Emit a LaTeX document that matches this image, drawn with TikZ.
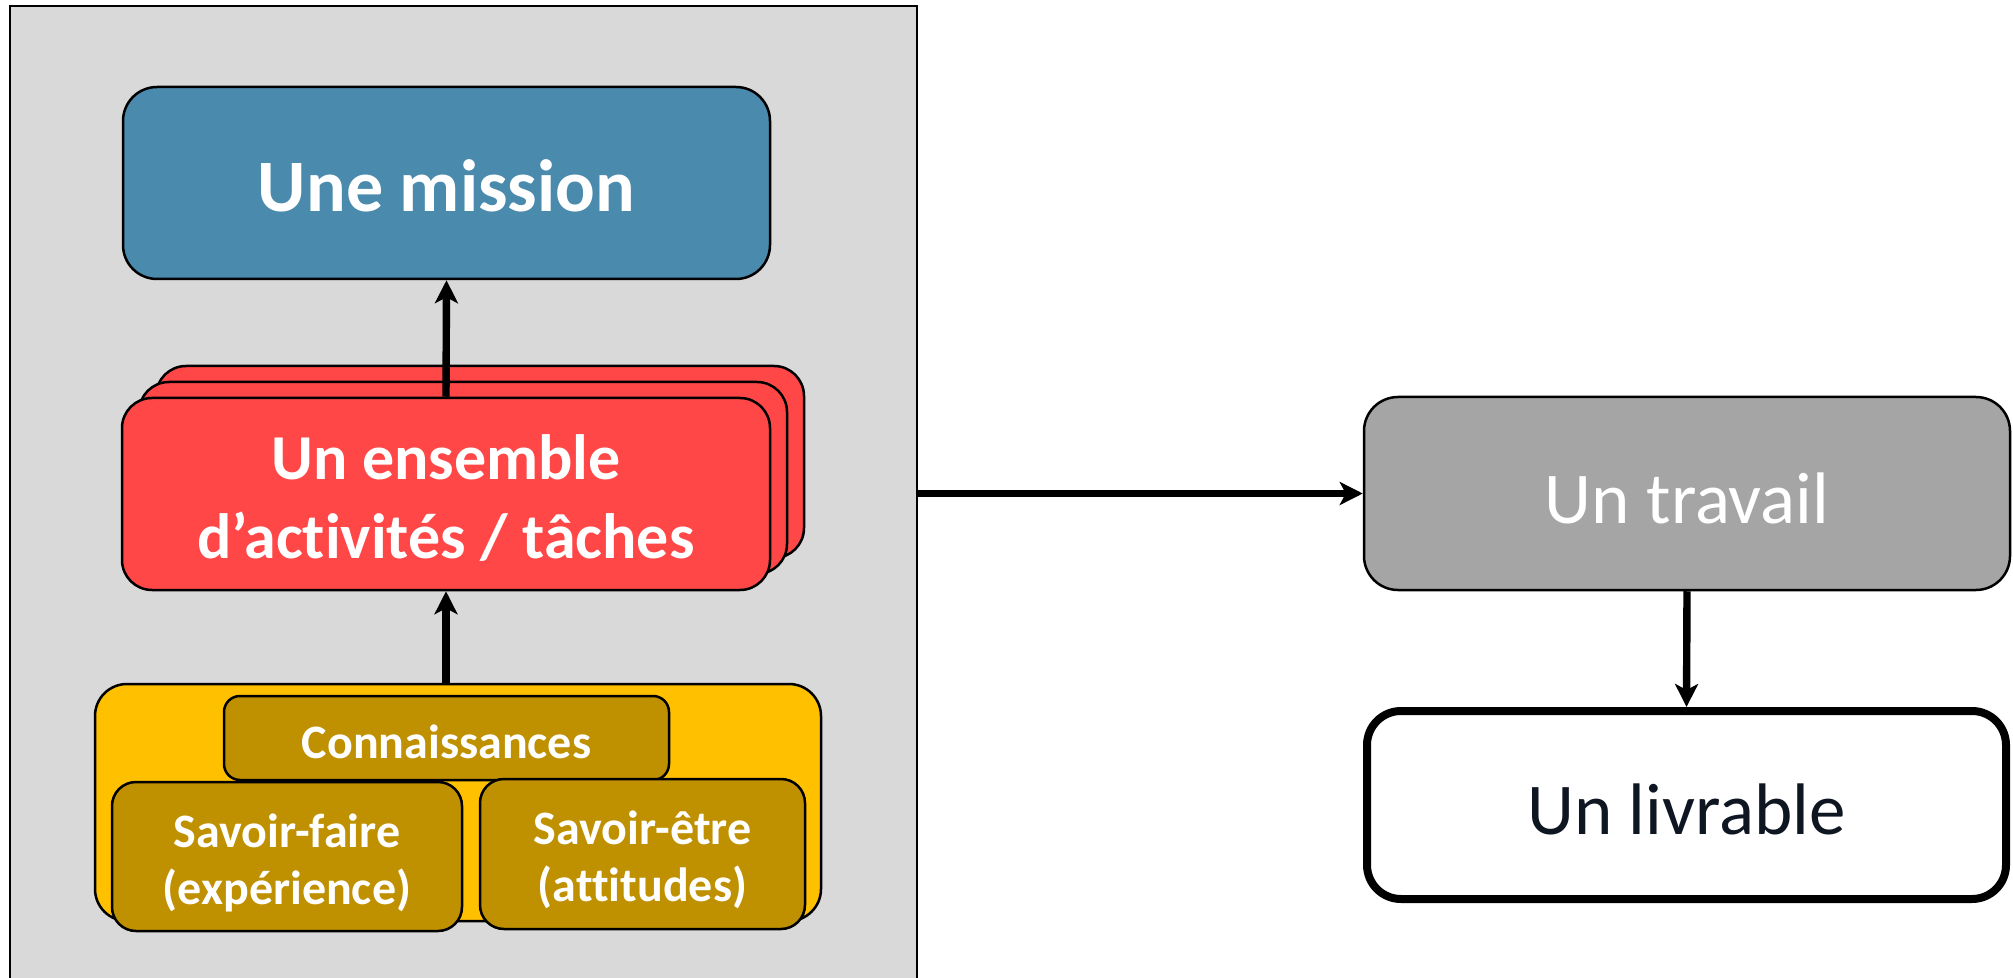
\documentclass[tikz,border=0pt]{standalone}
\usepackage{fontspec}
\setmainfont{Carlito}[Ligatures={NoCommon}]
\usetikzlibrary{arrows.meta}
\definecolor{panelgrey}{HTML}{D9D9D9}
\definecolor{missionblue}{HTML}{4A8AAD}
\definecolor{taskred}{HTML}{FF4747}
\definecolor{skillyellow}{HTML}{FFC000}
\definecolor{skillgold}{HTML}{BF9000}
\definecolor{workgrey}{HTML}{A5A5A5}
\definecolor{darktext}{HTML}{0E1621}
\begin{document}
\begin{tikzpicture}[x=0.5pt,y=-0.5pt,
  rbox/.style={draw=black, line width=1.25pt, rounded corners=#1, inner sep=0pt},
  lbl/.style={inner sep=0pt, align=center},
  bigtext/.style={font=\fontsize{36.5}{43}\selectfont},
  missiontext/.style={font=\bfseries\fontsize{37}{44}\selectfont, text=white},
  redtext/.style={font=\bfseries\fontsize{32}{39.5}\selectfont, text=white},
  skilltext/.style={font=\bfseries\fontsize{24}{28.5}\selectfont, text=white},
  conn/.style={line width=3.7pt, -{Stealth[length=11.5pt, width=11.5pt, inset=3pt]}}
]
\useasboundingbox (0,0) rectangle (2013,978);
\fill[white] (0,0) rectangle (2013,978);
\clip (0,0) rectangle (2013,978);

% grey panel
\node[draw=black, line width=0.8pt, fill=panelgrey, minimum width=453.5pt, minimum height=491pt, inner sep=0pt] (panel) at (463.5,497) {};

% mission
\node[rbox=17pt, fill=missionblue, minimum width=323.5pt, minimum height=96pt] (mission) at (446.5,183) {};
\node[lbl, missiontext] (missiontxt) at ([yshift=-1.5pt]mission.center) {Une mission};

% task stack
\node[rbox=15pt, fill=taskred, minimum width=324pt, minimum height=96pt] (redc) at (480,462) {};
\node[rbox=15pt, fill=taskred, minimum width=324pt, minimum height=96pt] (redb) at (463,478) {};
\node[rbox=15pt, fill=taskred, minimum width=324pt, minimum height=96pt] (red) at (446,494) {};
\node[lbl, redtext] (redtxt) at ([yshift=-2.2pt]red.center) {Un ensemble\\d’activités / tâches};

% skills
\node[rbox=16pt, fill=skillyellow, minimum width=363pt, minimum height=118.5pt] (skills) at (458,802.5) {};
\node[rbox=8pt, fill=skillgold, minimum width=222.5pt, minimum height=42pt] (conn) at (446.5,738) {};
\node[lbl, skilltext] (conntxt) at ([yshift=-2pt]conn.center) {Connaissances};
\node[rbox=12pt, fill=skillgold, minimum width=175pt, minimum height=74.5pt] (faire) at (287,856.5) {};
\node[lbl, skilltext] (fairetxt) at ([yshift=-3pt]faire.center) {Savoir-faire\\(expérience)};
\node[rbox=12pt, fill=skillgold, minimum width=162.5pt, minimum height=75pt] (etre) at (642.5,854) {};
\node[lbl, skilltext] (etretxt) at ([yshift=-3pt]etre.center) {Savoir-être\\(attitudes)};

% right side
\node[rbox=17pt, fill=workgrey, minimum width=323pt, minimum height=96.5pt] (travail) at (1687,493.5) {};
\node[lbl, bigtext, text=white] (travailtxt) at ([yshift=-2.5pt]travail.center) {Un travail};
\node[rbox=17pt, line width=4pt, fill=white, minimum width=319.5pt, minimum height=94pt] (livrable) at (1686.5,805) {};
\node[lbl, bigtext, text=darktext] (livrabletxt) at ([yshift=-2pt]livrable.center) {Un livrable};

% connectors
\draw[conn] (red.north) -- (mission.south);
\draw[conn] (red.south |- skills.north) -- (red.south);
\draw[conn] (panel.east |- travail.west) -- (travail.west);
\draw[conn] (travail.south) -- (livrable.north);
\end{tikzpicture}
\end{document}
